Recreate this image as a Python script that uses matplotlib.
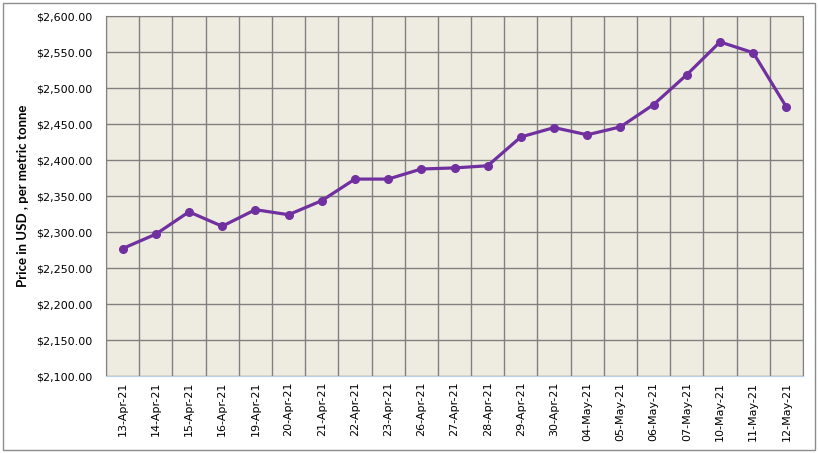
import matplotlib
matplotlib.use("Agg")
import matplotlib.pyplot as plt
from matplotlib.patches import Rectangle
from matplotlib.ticker import FuncFormatter, MultipleLocator

dates = ["13-Apr-21", "14-Apr-21", "15-Apr-21", "16-Apr-21", "19-Apr-21", "20-Apr-21",
         "21-Apr-21", "22-Apr-21", "23-Apr-21", "26-Apr-21", "27-Apr-21", "28-Apr-21",
         "29-Apr-21", "30-Apr-21", "04-May-21", "05-May-21", "06-May-21", "07-May-21",
         "10-May-21", "11-May-21", "12-May-21"]
prices = [2277, 2297, 2328, 2308, 2331, 2324, 2343.5, 2373.5, 2373.5, 2387.5, 2389, 2392,
          2432, 2445, 2435, 2446, 2477, 2518.5, 2564, 2549, 2473.5]

fig = plt.figure(figsize=(8.18, 4.53), dpi=100)
fig.patches.append(Rectangle((3 / 818, 3 / 453), 812 / 818, 447 / 453, transform=fig.transFigure,
                             fill=False, edgecolor="#8c8c8c", linewidth=1))
ax = fig.add_axes([106 / 818, 77 / 453, 697 / 818, 360 / 453])
ax.set_facecolor("#EEECE1")

x = list(range(len(dates)))
ax.plot(x, prices, color="#7030A0", linewidth=2.3, marker="o", markersize=5.5, zorder=3)

ax.set_xlim(-0.5, len(dates) - 0.5)
ax.set_ylim(2100, 2600)
ax.yaxis.set_major_locator(MultipleLocator(50))
ax.yaxis.set_major_formatter(FuncFormatter(lambda v, p: "${:,.2f}".format(v)))
ax.set_xticks(x)
ax.set_xticklabels(dates, rotation=90, fontsize=8)
ax.tick_params(axis="y", labelsize=8, length=0, pad=10)
ax.tick_params(axis="x", length=0, pad=4)

# vertical gridlines between categories
for i in range(len(dates) + 1):
    ax.axvline(i - 0.5, color="#808080", linewidth=1, zorder=1)
ax.yaxis.grid(True, color="#808080", linewidth=1, zorder=1)
ax.set_axisbelow(True)

for s in ["top", "right", "left"]:
    ax.spines[s].set_color("#808080")
ax.spines["bottom"].set_color("#B9CDE5")

ax.set_ylabel("Price in USD , per metric tonne", fontsize=9.5, fontweight="bold",
              family=["Lato", "DejaVu Sans"])
ax.yaxis.set_label_coords(-0.11, 0.5)

fig.savefig("out.png", dpi=100)
